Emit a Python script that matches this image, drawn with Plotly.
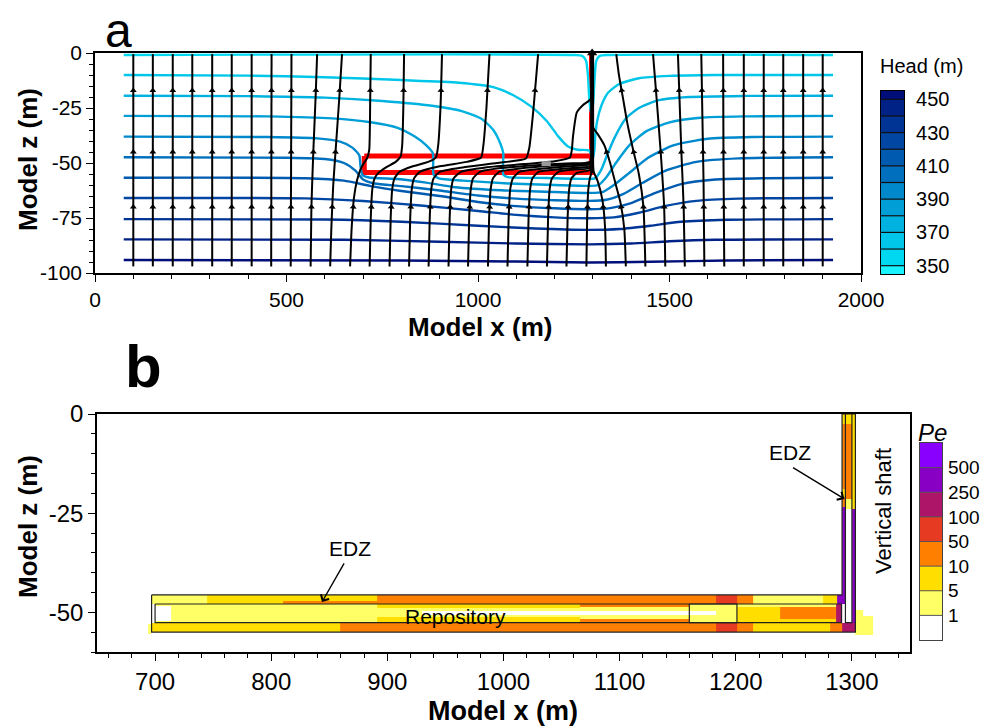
import math
import plotly.graph_objects as go

FONT = "Liberation Sans, Arial, sans-serif"

# ======================= Panel a data =======================
HEAD_LEVELS = [350, 360, 370, 380, 390, 400, 410, 420, 430, 440, 450]
HEAD_BIN_EDGES = [345, 350, 360, 370, 380, 390, 400, 410, 420, 430, 440, 450, 455]
HEAD_BIN_COLORS = ["#19F2FF", "#00D8F2", "#00C6EA", "#00B2E0", "#009ED6", "#0088CC",
                   "#0070BE", "#005AB0", "#0046A2", "#003494", "#002286", "#000E7A"]
HEAD_TICKS = [350, 370, 390, 410, 430, 450]
X_TICKS_A = [0, 500, 1000, 1500, 2000]
Z_TICKS_A = [0, -25, -50, -75, -100]
X_TICKS_B = [700, 800, 900, 1000, 1100, 1200, 1300]
Z_TICKS_B = [0, -25, -50]

CONTOUR_PATHS = [
    [(75, -0.9), (1250, -0.9), (1272, -1.3), (1282, -3.5), (1287, -10), (1291, -22), (1296, -28),
     (1301, -22), (1305, -10), (1309, -3.5), (1318, -1.3), (1340, -0.9), (1927, -0.9)],
    [(75, -10), (400, -10.3), (600, -11), (800, -12.3), (950, -13.5), (1040, -15.5), (1090, -19),
     (1140, -24.5), (1180, -31), (1210, -38), (1235, -42.5), (1260, -44), (1290, -44.3), (1300, -48),
     (1304, -44), (1306, -38), (1311, -31), (1322, -24), (1340, -18), (1370, -14), (1420, -11.5),
     (1500, -10.4), (1620, -10), (1927, -10)],
    [(75, -19.4), (400, -19.6), (600, -20.3), (750, -21.8), (880, -24), (960, -26.5), (1010, -30),
     (1040, -35), (1058, -41), (1066, -45.5), (1066, -55.3), (1078, -56.4), (1180, -56.8),
     (1280, -57.2), (1305, -57), (1322, -53), (1338, -46), (1358, -38), (1385, -30), (1420, -25),
     (1470, -21.5), (1550, -20), (1700, -19.5), (1927, -19.4)],
    [(75, -28.6), (450, -28.8), (620, -29.7), (720, -31.5), (790, -34), (835, -38), (865, -42),
     (882, -45.5), (884, -55.3), (898, -57), (960, -58), (1080, -59.3), (1200, -60), (1290, -60.4),
     (1315, -60), (1335, -56.5), (1360, -50), (1395, -42), (1440, -35.5), (1500, -31.5),
     (1580, -29.4), (1700, -28.8), (1927, -28.6)],
    [(75, -38), (450, -38.2), (580, -38.8), (640, -40.3), (672, -43), (690, -46.5), (693, -51),
     (698, -55.3), (715, -56.6), (790, -57.3), (860, -58.8), (940, -61), (1060, -62.4), (1200, -63.2),
     (1290, -63.6), (1325, -63.2), (1355, -60), (1395, -54.5), (1445, -47.5), (1510, -42),
     (1600, -39), (1720, -38.2), (1927, -38)],
    [(75, -47.4), (500, -47.6), (600, -48.2), (650, -50), (680, -53.5), (700, -57.5), (730, -59.3),
     (800, -60.5), (900, -62.5), (1000, -64.8), (1100, -66.2), (1200, -66.9), (1290, -67.2),
     (1335, -66.7), (1380, -64), (1430, -59), (1490, -53.5), (1570, -49.5), (1680, -47.9), (1927, -47.4)],
    [(75, -56.7), (550, -56.9), (650, -58), (720, -60.5), (800, -62.7), (900, -65), (1000, -67.7),
     (1100, -69.6), (1200, -70.6), (1290, -71), (1345, -70.5), (1400, -68.2), (1460, -63.8),
     (1530, -59.6), (1620, -57.5), (1750, -56.9), (1927, -56.7)],
    [(75, -65.9), (550, -66.1), (700, -67.3), (850, -69.3), (1000, -71.8), (1100, -73.6), (1200, -74.7),
     (1290, -75.1), (1355, -74.7), (1420, -72.6), (1490, -69.5), (1570, -67.2), (1680, -66.2), (1927, -65.9)],
    [(75, -75.5), (600, -75.7), (800, -76.7), (1000, -78.5), (1150, -79.8), (1290, -80.4), (1370, -80),
     (1450, -78.5), (1530, -76.7), (1650, -75.8), (1927, -75.5)],
    [(75, -84.7), (650, -84.9), (900, -85.8), (1100, -86.6), (1290, -87), (1400, -86.6), (1500, -85.6),
     (1620, -84.9), (1927, -84.7)],
    [(75, -94.1), (800, -94.3), (1100, -94.8), (1290, -95.2), (1450, -94.9), (1650, -94.3), (1927, -94.1)],
]

STREAMLINES = [
    [(100, -97), (100, -0.5)], [(151, -97), (151, -0.5)], [(203, -97), (203, -0.5)],
    [(254, -97), (254, -0.5)], [(306, -97), (306, -0.5)], [(357, -97), (357, -0.5)],
    [(409, -97), (409, -0.5)], [(460, -97), (461, -0.5)], [(511, -97), (513, -0.5)],
    [(563, -97), (565, -70), (570, -45), (576, -20), (580, -0.5)],
    [(614, -97), (617, -80), (622, -60), (630, -40), (638, -20), (645, -0.5)],
    [(666, -97), (670, -80), (676, -66), (684, -58), (693, -53), (702, -50), (710, -48), (716, -44),
     (718, -30), (720, -0.5)],
    [(717, -97), (720, -75), (724, -62), (730, -57), (740, -54.5), (760, -52), (785, -49.5), (798, -47),
     (802, -42), (805, -25), (807, -0.5)],
    [(769, -97), (772, -75), (776, -62), (782, -57), (795, -54), (830, -51.5), (870, -49.5), (890, -47.5),
     (896, -42), (902, -25), (906, -0.5)],
    [(820, -97), (823, -75), (827, -62), (833, -57), (848, -54), (900, -51.5), (970, -49.5), (1008, -47.5),
     (1014, -42), (1022, -25), (1030, -0.5)],
    [(871, -97), (874, -75), (878, -62), (884, -57), (900, -54), (960, -52), (1050, -50), (1125, -48),
     (1134, -43), (1145, -25), (1157, -0.5)],
    [(923, -97), (926, -75), (930, -62), (936, -57), (955, -54), (1020, -52), (1120, -50.5), (1200, -49.2),
     (1240, -47.5), (1245, -44), (1248, -38), (1258, -27), (1275, -23.5), (1294, -21), (1297, -15),
     (1297, -0.5)],
    [(974, -97), (977, -75), (981, -62), (987, -57), (1005, -54), (1060, -52.3), (1150, -51), (1230, -50.2),
     (1280, -50), (1295, -49), (1297.5, -40), (1297.5, -0.5)],
    [(1026, -97), (1029, -75), (1033, -62), (1039, -57), (1055, -54), (1110, -52.5), (1190, -51.3),
     (1260, -50.6), (1295, -50), (1298, -42), (1298, -0.5)],
    [(1077, -97), (1080, -75), (1084, -62), (1091, -57), (1108, -54), (1160, -52.7), (1230, -51.6),
     (1280, -51), (1296, -50.5), (1298.5, -44), (1298.5, -0.5)],
    [(1129, -97), (1132, -75), (1136, -62), (1142, -57), (1158, -54), (1210, -52.8), (1270, -52),
     (1296, -51.5), (1299, -46), (1299, -0.5)],
    [(1180, -97), (1183, -75), (1187, -62), (1193, -57), (1210, -54), (1250, -53), (1296, -52.2),
     (1299.5, -47), (1299.5, -0.5)],
    [(1231, -97), (1234, -75), (1238, -62), (1244, -57), (1258, -54.5), (1296, -53), (1299, -48),
     (1299, -0.5)],
    [(1283, -97), (1285, -75), (1288, -62), (1292, -57), (1297, -54), (1299, -48), (1299, -0.5)],
    [(1334, -97), (1332, -80), (1325, -67), (1312, -58), (1302, -54), (1299.5, -48), (1299.5, -0.5)],
    [(1386, -97), (1382, -80), (1372, -68), (1360, -60), (1345, -50), (1330, -42), (1313, -37),
     (1301, -34), (1299, -25), (1299, -0.5)],
    [(1437, -97), (1432, -70), (1420, -55), (1405, -44), (1390, -32), (1379, -21), (1368, -10), (1361, -0.5)],
    [(1489, -97), (1486, -70), (1477, -45), (1466, -20), (1457, -0.5)],
    [(1540, -97), (1537, -70), (1531, -45), (1526, -20), (1522, -0.5)],
    [(1591, -97), (1589, -60), (1586, -30), (1583, -0.5)],
    [(1643, -97), (1641, -50), (1640, -0.5)],
    [(1694, -97), (1694, -0.5)], [(1746, -97), (1746, -0.5)], [(1797, -97), (1797, -0.5)],
    [(1849, -97), (1849, -0.5)], [(1900, -97), (1900, -0.5)],
]
ARROW_DEPTHS = [-17, -45, -70]

# repository / shaft EDZ outline in panel a
EDZ_A_X = [703, 1296, 1296, 703, 703]
EDZ_A_Z = [-46.8, -46.8, -54.3, -54.3, -46.8]
SHAFT_EDZ_A_X = [1295, 1295]
SHAFT_EDZ_A_Z = [0, -46.8]
SHAFT_A_X = [1298, 1298]
SHAFT_A_Z = [-54.5, 0]
SOURCE_A_X = [1166, 1190]
SOURCE_A_Z = [-50.3, -50.3]

# ======================= Panel b data =======================
PE_LABELS = ["1", "5", "10", "50", "100", "250", "500"]
PE_COLORS = ["#FFFFFF", "#FFFF66", "#FFDE00", "#FF8000", "#E63A22", "#AD1668", "#8800C4", "#8A00FF"]

CELL_X0 = [697, 745, 810, 891, 1183, 1201, 1215, 1275, 1287,
           700, 700, 891, 1066, 891, 1066, 930, 1201, 1238, 1238, 1286,
           697, 859, 1183, 1201, 1215, 1281, 1291.5, 694, 1303, 1310,
           1291.5, 1291.5, 1291.5, 1291.5, 1291.5, 1294.4, 1294.4, 1294.4, 1294.4, 1300, 1300]
CELL_X1 = [745, 891, 891, 1183, 1201, 1215, 1275, 1287, 1294.4,
           1291, 714, 1066, 1160, 1066, 1160, 1183, 1238, 1286, 1286, 1291.5,
           859, 1183, 1201, 1215, 1281, 1291.5, 1303, 697, 1310, 1318,
           1294.4, 1294.4, 1294.4, 1294.4, 1294.4, 1300, 1300, 1300, 1300, 1303, 1303]
CELL_Z0 = [-47.9, -47.9, -47.9, -47.9, -47.9, -47.9, -47.9, -47.9, -47.9,
           -52.6, -52.2, -48.8, -48.6, -52.6, -52.6, -50.6, -52.6, -51.7, -52.6, -52.6,
           -55, -55, -55, -55, -55, -55, -55, -55.5, -55.8, -55.8,
           -2.5, -19, -21, -23.5, -45.6, -2.4, -21.5, -24, -52.6, -24, -52.6]
CELL_Z1 = [-45.6, -45.6, -47.2, -45.6, -45.6, -45.6, -45.6, -45.6, -45.6,
           -47.9, -48.3, -47.9, -47.9, -51.2, -51.8, -49.6, -48.6, -48.6, -51.7, -47.9,
           -52.6, -52.6, -52.6, -52.6, -52.6, -52.6, -52.6, -53, -49.5, -51,
           0, -2.5, -19, -21, -23.5, 0, -2.4, -21.5, -24, 0, -24]
CELL_PE = [1, 2, 3, 3, 4, 3, 1, 2, 6,
           1, 0, 2, 3, 2, 3, 0, 2, 3, 2, 5,
           2, 3, 4, 3, 2, 3, 5, 1, 1, 1,
           2, 3, 2, 3, 6, 2, 3, 1, 0, 2, 6]

OUTER_X = [697, 1291.5, 1291.5, 1303, 1303, 697, 697]
OUTER_Z = [-45.6, -45.6, 0, 0, -55, -55, -45.6]
REPO_X = [700, 1291, 1291, 700, 700]
REPO_Z = [-47.9, -47.9, -52.6, -52.6, -47.9]
SHAFT_X = [1294.4, 1294.4, 1300, 1300]
SHAFT_Z = [0, -52.6, -52.6, 0]
BOX_X = [1160, 1201, 1201, 1160, 1160]
BOX_Z = [-47.9, -47.9, -52.6, -52.6, -47.9]

# ======================= helpers =======================
W, H = 981, 728


def px(x):
    return x / W


def py(y):
    return 1 - y / H


SX_A = 766 / 2000.0  # px per m (panel a x)
SZ_A = 220 / 100.0   # px per m (panel a z)


def point_at_z(path, zt):
    for (x0, z0), (x1, z1) in zip(path[:-1], path[1:]):
        if z0 != z1 and (z0 - zt) * (z1 - zt) <= 0:
            t = (zt - z0) / (z1 - z0)
            return x0 + t * (x1 - x0), x1 - x0, z1 - z0
    return None


def labels(vals):
    return [str(v) for v in vals]


fig = go.Figure()

# ---- panel a: EDZ (red) ----
fig.add_trace(go.Scatter(x=EDZ_A_X, y=EDZ_A_Z, mode="lines", line=dict(color="#FF0000", width=5),
                         xaxis="x", yaxis="y", hoverinfo="skip", showlegend=False))
fig.add_trace(go.Scatter(x=SHAFT_EDZ_A_X, y=SHAFT_EDZ_A_Z, mode="lines", line=dict(color="#FF0000", width=4),
                         xaxis="x", yaxis="y", hoverinfo="skip", showlegend=False))

# ---- panel a: head contours ----
for lvl, path in zip(HEAD_LEVELS, CONTOUR_PATHS):
    col = HEAD_BIN_COLORS[HEAD_BIN_EDGES.index(lvl)]
    fig.add_trace(go.Scatter(x=[p[0] for p in path], y=[p[1] for p in path], mode="lines",
                             line=dict(color=col, width=2.4, shape="spline", smoothing=0.6),
                             xaxis="x", yaxis="y", hoverinfo="skip", showlegend=False))

# ---- panel a: streamlines ----
for path in STREAMLINES:
    fig.add_trace(go.Scatter(x=[p[0] for p in path], y=[p[1] for p in path], mode="lines",
                             line=dict(color="black", width=2.0, shape="spline", smoothing=0.5),
                             xaxis="x", yaxis="y", hoverinfo="skip", showlegend=False))

fig.add_trace(go.Scatter(x=SOURCE_A_X, y=SOURCE_A_Z, mode="lines", line=dict(color="#9A9A9A", width=5),
                         xaxis="x", yaxis="y", hoverinfo="skip", showlegend=False))
fig.add_trace(go.Scatter(x=SHAFT_A_X, y=SHAFT_A_Z, mode="lines", line=dict(color="black", width=4),
                         xaxis="x", yaxis="y", hoverinfo="skip", showlegend=False))

# arrows
ax_, az_, ang_ = [], [], []
for path in STREAMLINES:
    for zt in ARROW_DEPTHS:
        r = point_at_z(path, zt)
        if r is None:
            continue
        xa, dx, dz = r
        if 1288 < xa < 1306:
            continue
        if 695 < xa < 1305 and -57 < zt < -44:
            continue
        ax_.append(xa)
        az_.append(zt)
        ang_.append(math.degrees(math.atan2(dx * SX_A, dz * SZ_A)))
fig.add_trace(go.Scatter(x=ax_, y=az_, mode="markers",
                         marker=dict(symbol="triangle-up", size=6, color="black", angle=ang_,
                                     line=dict(width=0)),
                         xaxis="x", yaxis="y", hoverinfo="skip", showlegend=False))
fig.add_trace(go.Scatter(x=[SHAFT_A_X[0]], y=[SHAFT_A_Z[1]], mode="markers",
                         marker=dict(symbol="triangle-up", size=9, color="black"),
                         cliponaxis=False, xaxis="x", yaxis="y", hoverinfo="skip", showlegend=False))

# ---- panel b: Pe cells as heatmap on irregular grid ----
xs = sorted(set(CELL_X0 + CELL_X1))
zs = sorted(set(CELL_Z0 + CELL_Z1))
grid = [[None] * (len(xs) - 1) for _ in range(len(zs) - 1)]
for x0, x1, z0, z1, c in zip(CELL_X0, CELL_X1, CELL_Z0, CELL_Z1, CELL_PE):
    for j in range(len(xs) - 1):
        xc = 0.5 * (xs[j] + xs[j + 1])
        if not (x0 < xc < x1):
            continue
        for i in range(len(zs) - 1):
            zc = 0.5 * (zs[i] + zs[i + 1])
            if z0 < zc < z1:
                grid[i][j] = c

npe = len(PE_COLORS)
pe_scale = []
for k, c in enumerate(PE_COLORS):
    pe_scale.append([k / npe, c])
    pe_scale.append([(k + 1) / npe, c])

fig.add_trace(go.Heatmap(x=xs, y=zs, z=grid, colorscale=pe_scale, zmin=-0.5, zmax=npe - 0.5,
                         showscale=False, xaxis="x2", yaxis="y2", hoverinfo="skip"))

for X, Z in [(OUTER_X, OUTER_Z), (REPO_X, REPO_Z), (SHAFT_X, SHAFT_Z), (BOX_X, BOX_Z)]:
    fig.add_trace(go.Scatter(x=X, y=Z, mode="lines", line=dict(color="#222222", width=1.2),
                             xaxis="x2", yaxis="y2", hoverinfo="skip", showlegend=False))

# ---- colour bar a (head) ----
nh = len(HEAD_BIN_COLORS)
head_scale = []
for k, c in enumerate(HEAD_BIN_COLORS):
    head_scale.append([k / nh, c])
    head_scale.append([(k + 1) / nh, c])
fig.add_trace(go.Heatmap(x=[0, 1], y=HEAD_BIN_EDGES, z=[[k] for k in range(nh)], colorscale=head_scale,
                         zmin=-0.5, zmax=nh - 0.5, showscale=False, xaxis="x3", yaxis="y3",
                         hoverinfo="skip"))
sep_x, sep_y = [], []
for e in HEAD_BIN_EDGES[1:-1]:
    sep_x += [0, 1, None]
    sep_y += [e, e, None]
fig.add_trace(go.Scatter(x=sep_x, y=sep_y, mode="lines", line=dict(color="#111111", width=1.2),
                         xaxis="x3", yaxis="y3", hoverinfo="skip", showlegend=False))

# ---- colour bar b (Pe) ----
fig.add_trace(go.Heatmap(x=[0, 1], y=list(range(npe + 1)), z=[[k] for k in range(npe)], colorscale=pe_scale,
                         zmin=-0.5, zmax=npe - 0.5, showscale=False, xaxis="x4", yaxis="y4",
                         hoverinfo="skip"))
sep_x, sep_y = [], []
for e in range(1, npe):
    sep_x += [0, 1, None]
    sep_y += [e, e, None]
fig.add_trace(go.Scatter(x=sep_x, y=sep_y, mode="lines", line=dict(color="#555555", width=1),
                         xaxis="x4", yaxis="y4", hoverinfo="skip", showlegend=False))

# ======================= layout =======================
tickfont_a = dict(family=FONT, size=21, color="black")
tickfont_b = dict(family=FONT, size=24, color="black")
common = dict(showline=True, linecolor="black", linewidth=1.5, mirror=True, ticks="outside",
              tickcolor="black", tickwidth=1.3, ticklen=7, showgrid=False, zeroline=False,
              automargin=False)
bar = dict(showline=True, mirror=True, showgrid=False, zeroline=False, automargin=False,
           fixedrange=True)

layout = dict(
    width=W, height=H, margin=dict(l=0, r=0, t=0, b=0, pad=0, autoexpand=False),
    paper_bgcolor="white", plot_bgcolor="white", showlegend=False,
    xaxis=dict(domain=[px(95), px(861)], range=[0, 2000], tickvals=X_TICKS_A, ticktext=labels(X_TICKS_A),
               minor=dict(dtick=100, tick0=0, ticks="outside", ticklen=4, tickcolor="black"),
               tickfont=tickfont_a, anchor="y", **common),
    yaxis=dict(domain=[py(273), py(53)], range=[-100, 0], tickvals=Z_TICKS_A, ticktext=labels(Z_TICKS_A),
               minor=dict(dtick=5, tick0=0, ticks="outside", ticklen=4, tickcolor="black"),
               tickfont=tickfont_a, anchor="x", **common),
    xaxis2=dict(domain=[px(97), px(910)], range=[650, 1350], tickvals=X_TICKS_B, ticktext=labels(X_TICKS_B),
                minor=dict(dtick=20, tick0=700, ticks="outside", ticklen=4, tickcolor="black"),
                tickfont=tickfont_b, anchor="y2", **common),
    yaxis2=dict(domain=[py(652), py(414)], range=[-60, 0], tickvals=Z_TICKS_B, ticktext=labels(Z_TICKS_B),
                minor=dict(dtick=5, tick0=0, ticks="outside", ticklen=4, tickcolor="black"),
                tickfont=tickfont_b, anchor="x2", **common),
    xaxis3=dict(domain=[px(881), px(904)], range=[0, 1], showticklabels=False, ticks="",
                linecolor="black", linewidth=1.2, anchor="y3", **bar),
    yaxis3=dict(domain=[py(274), py(91)], range=[345, 455], side="right", tickvals=HEAD_TICKS,
                ticktext=labels(HEAD_TICKS), ticks="", linecolor="black", linewidth=1.2,
                anchor="x3", ticklabelstandoff=7,
                tickfont=dict(family=FONT, size=20, color="black"), **bar),
    xaxis4=dict(domain=[px(920), px(942)], range=[0, 1], showticklabels=False, ticks="",
                linecolor="#444444", linewidth=1.2, anchor="y4", **bar),
    yaxis4=dict(domain=[py(640), py(443)], range=[0, npe], side="right",
                tickvals=list(range(1, npe)), ticktext=PE_LABELS, ticks="",
                linecolor="#444444", linewidth=1.2, anchor="x4", ticklabelstandoff=1,
                tickfont=dict(family=FONT, size=19, color="black"), **bar),
)
fig.update_layout(**layout)

ann = []


def txt(x, y, s, size, bold=False, italic=False, angle=0, xref="paper", yref="paper"):
    if bold:
        s = "<b>" + s + "</b>"
    if italic:
        s = "<i>" + s + "</i>"
    ann.append(dict(x=x, y=y, xref=xref, yref=yref, text=s, showarrow=False, textangle=angle,
                    xanchor="center", yanchor="middle",
                    font=dict(family=FONT, size=size, color="black")))


txt(px(118), py(31), "a", 48)
txt(px(143), py(366), "b", 60, bold=True)
txt(px(480), py(327), "Model x (m)", 26, bold=True)
txt(px(503), py(711), "Model x (m)", 27, bold=True)
txt(px(28), py(160), "Model z (m)", 26, bold=True, angle=-90)
txt(px(28), py(527), "Model z (m)", 26, bold=True, angle=-90)
txt(px(921), py(66), "Head (m)", 20)
txt(px(932), py(432), "Pe", 24, italic=True)

# panel b labels (data coordinates)
txt(868, -33.8, "EDZ", 21, xref="x2", yref="y2")
txt(1246.5, -9.6, "EDZ", 21, xref="x2", yref="y2")
txt(959, -51.1, "Repository", 21, xref="x2", yref="y2")
txt(1326.5, -24.5, "Vertical shaft", 22, angle=-90, xref="x2", yref="y2")

for (tx, tz, hx, hz) in [(863.5, -37.3, 843.7, -47.4), (1248, -13.3, 1293.5, -21.4)]:
    ann.append(dict(x=hx, y=hz, ax=tx, ay=tz, xref="x2", yref="y2", axref="x2", ayref="y2",
                    text="", showarrow=True, arrowhead=4, arrowsize=1.3, arrowwidth=1.4,
                    arrowcolor="black"))

fig.update_layout(annotations=ann)
fig.write_html("out.html")
